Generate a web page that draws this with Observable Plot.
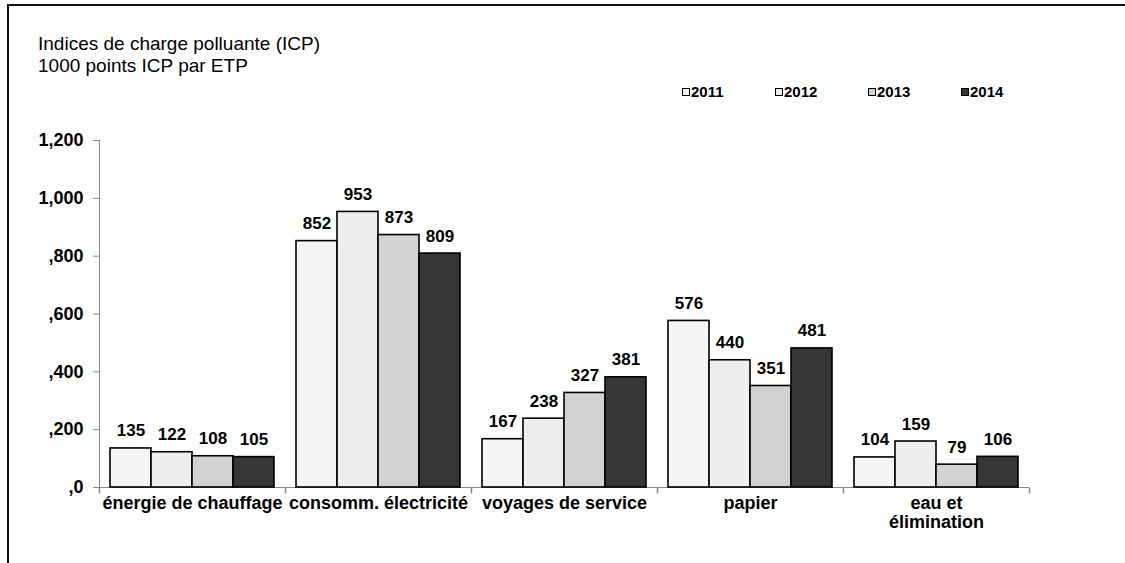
<!DOCTYPE html>
<html><head><meta charset="utf-8">
<script src="https://cdn.jsdelivr.net/npm/d3@7"></script>
<script src="https://cdn.jsdelivr.net/npm/@observablehq/plot@0.6"></script>
<style>
body{margin:0;background:#fff;}
#wrap{position:relative;width:1125px;height:563px;overflow:hidden;font-family:"Liberation Sans",Arial,sans-serif;color:#000;}
#frame{position:absolute;left:7px;top:4px;width:1300px;height:800px;border-left:2px solid #111;border-top:2px solid #111;}
#title{position:absolute;left:38px;top:34px;font-size:19px;line-height:19px;white-space:nowrap;}
#subtitle{position:absolute;left:38px;top:56px;font-size:19px;line-height:19px;white-space:nowrap;}
#legend{position:absolute;left:682px;top:84px;height:16px;}
.li{position:absolute;top:0;display:flex;align-items:center;font-size:15px;font-weight:bold;line-height:16px;white-space:nowrap;}
.sw{width:6px;height:6px;border:1.5px solid #000;margin-right:1px;}
#chart{position:absolute;left:0;top:0;}
</style>
</head><body>
<div id="wrap">
  <div id="frame"></div>
  <div id="title">Indices de charge polluante (ICP)</div>
  <div id="subtitle">1000 points ICP par ETP</div>
  <div id="legend"></div>
  <div id="chart"></div>
</div>
<script>
const categories = ["énergie de chauffage", "consomm. électricité", "voyages de service", "papier", "eau et\nélimination"];
const years = ["2011", "2012", "2013", "2014"];
const v2011 = [135, 852, 167, 576, 104];
const v2012 = [122, 953, 238, 440, 159];
const v2013 = [108, 873, 327, 351, 79];
const v2014 = [105, 809, 381, 481, 106];
const yearColors = ["#f5f5f5", "#eeeeee", "#d2d2d2", "#363636"];
const yTicks = [0, 200, 400, 600, 800, 1000, 1200];
const yTickLabels = [",0", ",200", ",400", ",600", ",800", "1,000", "1,200"];

const series = [v2011, v2012, v2013, v2014];
const rows = [];
categories.forEach((c, i) => years.forEach((y, j) => rows.push({cat: c, year: y, value: series[j][i]})));

// legend
const legend = document.getElementById("legend");
years.forEach((y, j) => {
  const item = document.createElement("div");
  item.className = "li";
  item.style.left = (j * 93) + "px";
  const sw = document.createElement("span");
  sw.className = "sw";
  sw.style.background = yearColors[j];
  item.appendChild(sw);
  item.appendChild(document.createTextNode(y));
  legend.appendChild(item);
});

const vtick = {draw(ctx, size) { const l = Math.sqrt(size / Math.PI); ctx.moveTo(0, 0); ctx.lineTo(0, l); }};

const plot = Plot.plot({
  width: 1125,
  height: 563,
  marginLeft: 97,
  marginRight: 95,
  marginTop: 140,
  marginBottom: 76,
  style: {fontFamily: '"Liberation Sans", Arial, sans-serif', fontSize: "17px", fontWeight: "bold", color: "#000", background: "transparent", overflow: "visible"},
  fx: {domain: categories, padding: 0, label: null, axis: null},
  x: {domain: years, padding: 0, insetLeft: 10, insetRight: 10, axis: null},
  y: {domain: [0, 1200], axis: null},
  color: {domain: years, range: yearColors},
  marks: [
    Plot.frame({anchor: "left", facetAnchor: "left", stroke: "#888"}),
    Plot.ruleY([0], {stroke: "#888"}),
    Plot.axisY({ticks: yTicks, tickFormat: d => yTickLabels[yTicks.indexOf(d)], tickSize: 6, tickPadding: 10, stroke: "#888", fill: "#000", fontSize: 18, fontWeight: "bold", label: null}),
    Plot.dot(categories, {fx: d => d, x: null, y: null, frameAnchor: "bottom-left", symbol: vtick, r: 6, stroke: "#888", fill: "none"}),
    Plot.dot(categories.slice(-1), {fx: d => d, x: null, y: null, frameAnchor: "bottom-right", symbol: vtick, r: 6, stroke: "#888", fill: "none"}),
    Plot.axisFx({anchor: "bottom", tickSize: 0, tickPadding: 7, fontSize: 18, fontWeight: "bold", lineHeight: 1.1, label: null}),
    Plot.barY(rows, {fx: "cat", x: "year", y: "value", fill: "year", stroke: "#000", strokeWidth: 1.6}),
    Plot.text(rows, {fx: "cat", x: "year", y: "value", text: d => String(d.value), dy: -12, lineAnchor: "bottom", fontSize: 17, fontWeight: "bold", fill: "#000"})
  ]
});
document.getElementById("chart").appendChild(plot);
</script>
</body></html>
